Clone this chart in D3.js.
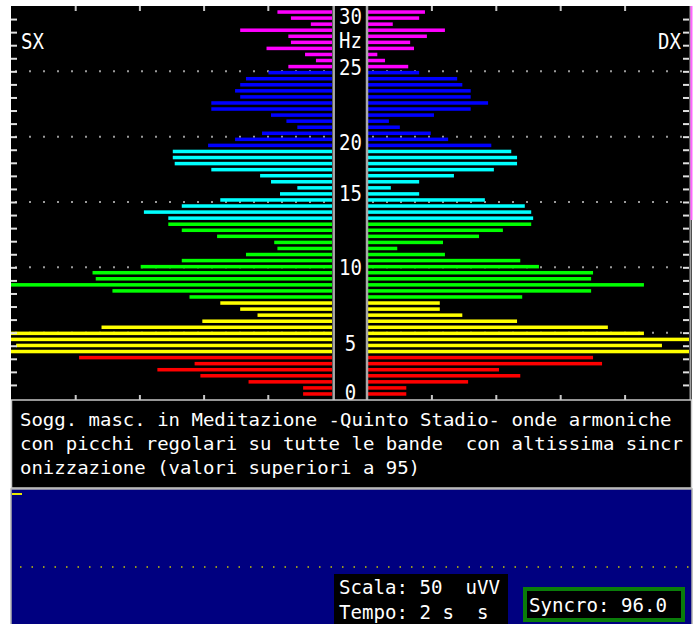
<!DOCTYPE html>
<html>
<head>
<meta charset="utf-8">
<script src="https://cdn.jsdelivr.net/npm/d3@7"></script>
<style>
body { margin: 0; background: #fff; }
svg { display: block; }
text { font-family: "DejaVu Sans Mono", monospace; fill: #fff; white-space: pre; }
</style>
</head>
<body>
<script>
// 64 frequency bins, 0 -> 30 Hz (bottom to top)
var bins = d3.range(64);

// amplitude per bin, left hemisphere (SX) and right (DX)
var leftVals = [
  4.5, 4.5, 13.0, 20.5, 27.2, 21.4, 39.4,
  52, 49.2, 52, 52, 35.9, 20.2, 11.6, 14.3, 17.4,
  22.2, 34.2, 52, 36.8, 37.3, 29.8, 23.4, 13.4, 8.5, 9.0, 17.9, 23.4, 25.5,
  25.5, 29.3, 23.4, 17.4, 8.1, 5.4, 9.5, 11.2, 18.8, 24.5, 24.8, 24.8,
  19.3, 15.1, 10.9, 5.4, 7.1, 9.5, 18.8, 18.8, 14.3, 15.1, 14.3, 13.4, 9.9,
  6.8, 2.5, 4.2, 10.2, 6.4, 6.8, 14.3, 3.3, 6.4, 8.5
];
var rightVals = [
  6.1, 6.1, 15.7, 23.8, 20.5, 36.5, 35.1,
  52, 45.8, 52, 43.0, 37.4, 23.3, 14.8, 11.3, 11.3,
  24.1, 34.8, 43.0, 34.8, 35.1, 26.7, 23.8, 12.1, 4.7, 11.8, 17.4, 21.1, 25.5,
  25.8, 25.5, 24.5, 18.3, 8.1, 3.7, 8.1, 13.5, 19.7, 23.3, 23.3, 22.4,
  19.3, 12.6, 9.9, 5.1, 3.4, 10.4, 16.1, 18.8, 16.1, 16.1, 14.8, 14.0, 8.1,
  6.4, 2.8, 1.6, 7.3, 6.7, 9.3, 12.1, 4.0, 8.1, 9.0
];

// colour bands (first bin index of each band)
var bandStart = [0, 7, 16, 29, 41, 54];
var bandColors = ["#ff0000", "#ffff00", "#00ff00", "#00ffff", "#0000ff", "#ff00ff"];

// Hz labels in the centre column and where they sit (Hz)
var hzLabels = ["0", "5", "10", "15", "20", "25", "30"];
var hzLabelPos = [-0.15, 3.6, 9.4, 15.1, 19.0, 24.7, 28.6];
var gridHz = [5, 10, 15, 20, 25];
var ampTicks = [10, 20, 30, 40];

var noteLines = [
  "Sogg. masc. in Meditazione -Quinto Stadio- onde armoniche",
  "con picchi regolari su tutte le bande  con altissima sincr",
  "onizzazione (valori superiori a 95)"
];
var scalaLines = ["Scala: 50  uVV", "Tempo: 2 s  s"];
var syncroText = "Syncro: 96.0";

var w = 696, h = 624;
var charW = 11.45;

var svg = d3.select("body").append("svg")
    .attr("width", w)
    .attr("height", h)
    .attr("xml:space", "preserve");

// scales
var yHz = d3.scaleLinear().domain([0, 30]).range([398, 6]);
var yBin = d3.scaleBand().domain(bins).range([397, 9])
    .paddingInner(0.42).paddingOuter(0.21);
var xL = d3.scaleLinear().domain([0, 50]).range([332, 11]).clamp(true);
var xR = d3.scaleLinear().domain([0, 50]).range([367, 689]).clamp(true);

function bandColor(i) {
  return bandColors[d3.bisectRight(bandStart, i) - 1];
}

// chart background
svg.append("rect")
    .attr("x", 11).attr("y", 6)
    .attr("width", 681).attr("height", 394)
    .attr("fill", "#000");

// dotted grid lines every 5 Hz
[[11, 332], [368, 689]].forEach(function(span) {
  svg.append("g").selectAll("line")
      .data(gridHz)
      .enter()
      .append("line")
      .attr("x1", span[0] + 4).attr("x2", span[1])
      .attr("y1", function(d) { return yHz(d); })
      .attr("y2", function(d) { return yHz(d); })
      .attr("stroke", "#9a9a9a")
      .attr("stroke-width", 2)
      .attr("stroke-dasharray", "2,12");
});

// bars
svg.append("g").selectAll("rect")
    .data(bins)
    .enter()
    .append("rect")
    .attr("x", function(i) { return xL(leftVals[i]); })
    .attr("y", function(i) { return yBin(i); })
    .attr("width", function(i) { return xL(0) - xL(leftVals[i]); })
    .attr("height", yBin.bandwidth())
    .attr("fill", function(i) { return bandColor(i); });

svg.append("g").selectAll("rect")
    .data(bins)
    .enter()
    .append("rect")
    .attr("x", xR(0))
    .attr("y", function(i) { return yBin(i); })
    .attr("width", function(i) { return xR(rightVals[i]) - xR(0); })
    .attr("height", yBin.bandwidth())
    .attr("fill", function(i) { return bandColor(i); });

// amplitude ticks top and bottom
function ampAxis(scale, y, gen) {
  var g = svg.append("g")
      .attr("transform", "translate(0," + y + ")")
      .call(gen(scale).tickValues(ampTicks).tickSize(5).tickFormat(""));
  g.select(".domain").remove();
  g.selectAll(".tick line").attr("stroke", "#c8c8c8").attr("stroke-width", 2);
}
ampAxis(xL, 6, d3.axisBottom);
ampAxis(xR, 6, d3.axisBottom);
ampAxis(xL, 400, d3.axisTop);
ampAxis(xR, 400, d3.axisTop);

// 1 Hz ticks on outer edges
function hzAxis(x, gen) {
  var g = svg.append("g")
      .attr("transform", "translate(" + x + ",0)")
      .call(gen(yHz).tickValues(d3.range(1, 30)).tickSize(6).tickFormat(""));
  g.select(".domain").remove();
  g.selectAll(".tick line").attr("stroke", "#e0e0e0").attr("stroke-width", 2);
}
hzAxis(11, d3.axisRight);
hzAxis(689, d3.axisLeft);

// centre column lines
[333.7, 367].forEach(function(x) {
  svg.append("line")
      .attr("x1", x).attr("x2", x)
      .attr("y1", 6).attr("y2", 400)
      .attr("stroke", "#a8a8a8")
      .attr("stroke-width", 2.5);
});

// right border
svg.append("line")
    .attr("x1", 690.5).attr("x2", 690.5).attr("y1", 6).attr("y2", 400)
    .attr("stroke", "#a0a0a0").attr("stroke-width", 2);
svg.append("line")
    .attr("x1", 691.5).attr("x2", 691.5).attr("y1", 6).attr("y2", 220)
    .attr("stroke", "#ff66ff").attr("stroke-width", 2);

// Hz labels
svg.append("g").selectAll("text")
    .data(hzLabels)
    .enter()
    .append("text")
    .attr("x", 350.5)
    .attr("y", function(d, i) { return yHz(hzLabelPos[i]); })
    .attr("text-anchor", "middle")
    .attr("font-size", 22)
    .attr("textLength", function(d) { return d.length * charW; })
    .attr("lengthAdjust", "spacingAndGlyphs")
    .text(function(d) { return d; });

svg.append("text")
    .attr("x", 350.5).attr("y", yHz(26.8))
    .attr("text-anchor", "middle")
    .attr("font-size", 22)
    .attr("textLength", 2 * charW)
    .attr("lengthAdjust", "spacingAndGlyphs")
    .text("Hz");

// side labels
[["SX", 21], ["DX", 658]].forEach(function(s) {
  svg.append("text")
      .attr("x", s[1]).attr("y", 49)
      .attr("font-size", 22)
      .attr("textLength", 2 * charW)
      .attr("lengthAdjust", "spacingAndGlyphs")
      .text(s[0]);
});

// note box
svg.append("rect")
    .attr("x", 11.5).attr("y", 400)
    .attr("width", 680).attr("height", 88)
    .attr("fill", "#000")
    .attr("stroke", "#c8c8c8")
    .attr("stroke-width", 1.5);

svg.append("g").selectAll("text")
    .data(noteLines)
    .enter()
    .append("text")
    .attr("x", 20)
    .attr("y", function(d, i) { return 426 + i * 24; })
    .attr("font-size", 18)
    .attr("textLength", function(d) { return d.length * 11.43; })
    .attr("lengthAdjust", "spacingAndGlyphs")
    .text(function(d) { return d; });

// trace panel
svg.append("rect")
    .attr("x", 11).attr("y", 489)
    .attr("width", 681).attr("height", 140)
    .attr("fill", "#000080")
    .attr("stroke", "#b0b0b0")
    .attr("stroke-width", 1.5);

svg.append("line")
    .attr("x1", 12).attr("x2", 22).attr("y1", 494).attr("y2", 494)
    .attr("stroke", "#e8e800").attr("stroke-width", 2);

svg.append("line")
    .attr("x1", 20).attr("x2", 690).attr("y1", 567).attr("y2", 567)
    .attr("stroke", "#c8c800").attr("stroke-width", 1.5)
    .attr("stroke-dasharray", "1.5,10");

// scala / tempo box
svg.append("rect")
    .attr("x", 334).attr("y", 574)
    .attr("width", 174).attr("height", 50)
    .attr("fill", "#000");

svg.append("g").selectAll("text")
    .data(scalaLines)
    .enter()
    .append("text")
    .attr("x", 339)
    .attr("y", function(d, i) { return 594 + i * 25; })
    .attr("font-size", 20)
    .attr("textLength", function(d) { return d.length * 11.5; })
    .attr("lengthAdjust", "spacingAndGlyphs")
    .text(function(d) { return d; });

// syncro box
svg.append("rect")
    .attr("x", 525).attr("y", 589)
    .attr("width", 158).attr("height", 31)
    .attr("fill", "#000")
    .attr("stroke", "#0a7d0a")
    .attr("stroke-width", 4);

svg.append("text")
    .attr("x", 529).attr("y", 612)
    .attr("font-size", 20)
    .attr("textLength", syncroText.length * 11.5)
    .attr("lengthAdjust", "spacingAndGlyphs")
    .text(syncroText);
</script>
</body>
</html>
